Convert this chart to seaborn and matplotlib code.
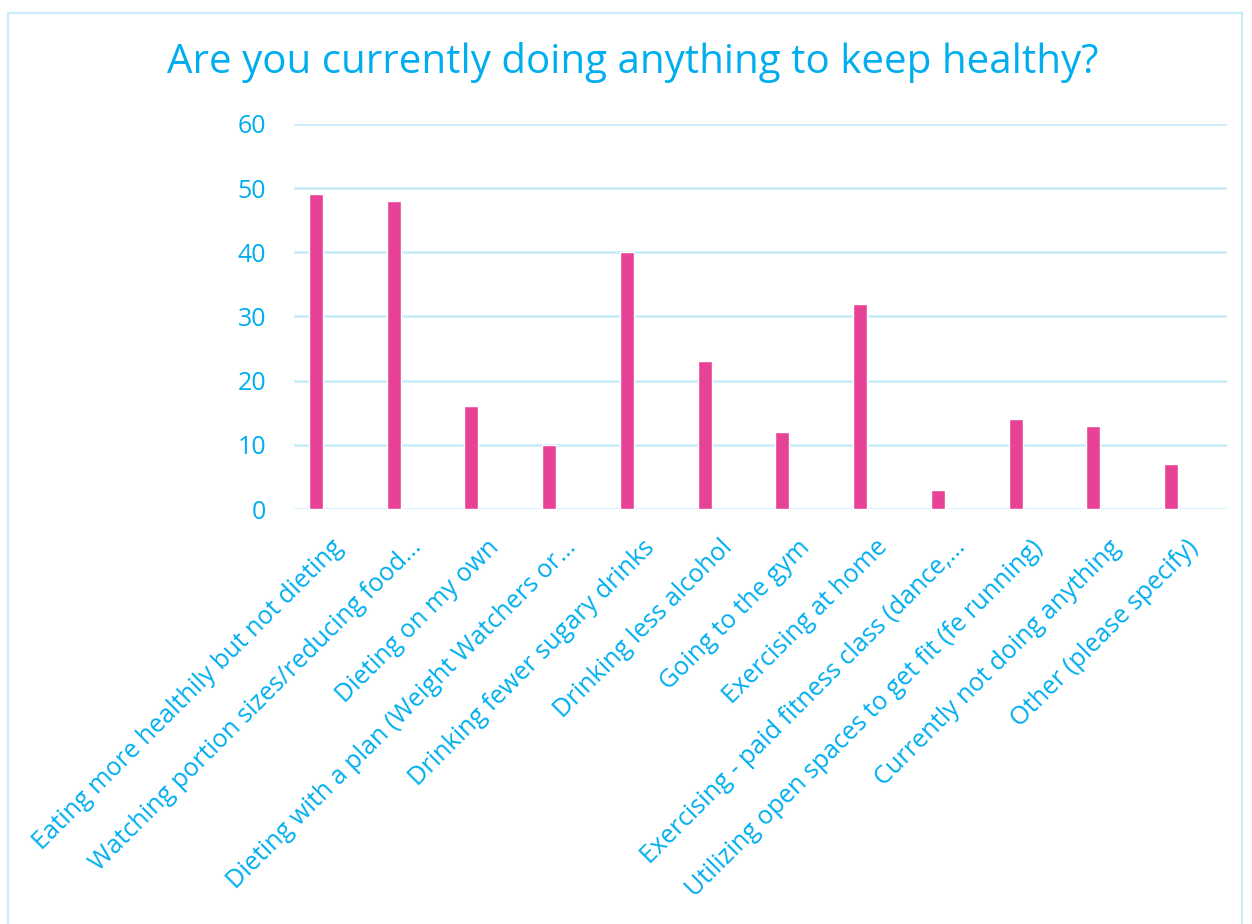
import matplotlib
matplotlib.use("Agg")
import matplotlib.pyplot as plt
import matplotlib.transforms as mtransforms
import seaborn as sns
import pandas as pd
from matplotlib.patches import Rectangle

sns.set_style("white")
plt.rcParams['font.family'] = ['Open Sans', 'DejaVu Sans']

# chart data
categories = [
    "Eating more healthily but not dieting",
    "Watching portion sizes/reducing food…",
    "Dieting on my own",
    "Dieting with a plan (Weight Watchers or…",
    "Drinking fewer sugary drinks",
    "Drinking less alcohol",
    "Going to the gym",
    "Exercising at home",
    "Exercising - paid fitness class (dance,…",
    "Utilizing open spaces to get fit (fe running)",
    "Currently not doing anything",
    "Other (please specify)",
]
counts = [49, 48, 16, 10, 40, 23, 12, 32, 3, 14, 13, 7]
y_ticks = [0, 10, 20, 30, 40, 50, 60]

df = pd.DataFrame({"category": categories, "count": counts})

text_blue = "#00AEEF"
grid_blue = "#C9ECFB"
bar_pink = "#E84297"

fig = plt.figure(figsize=(12.52, 9.24), dpi=100)
ax = fig.add_axes([0.2348, 0.449, 0.7452, 0.417])

sns.barplot(data=df, x="category", y="count", color=bar_pink,
            width=0.18, saturation=1, ax=ax)

ax.set_ylim(0, 60)
ax.set_xlim(-0.283, len(categories) - 1 + 0.72)
ax.set_yticks(y_ticks)
ax.yaxis.grid(True, color=grid_blue, linewidth=1.8)
ax.set_axisbelow(True)
for s in ax.spines.values():
    s.set_visible(False)
ax.tick_params(axis='y', length=0, pad=20, labelsize=18, labelcolor=text_blue)
ax.tick_params(axis='x', length=0, pad=10, labelsize=18.2, labelcolor=text_blue)
ax.set_xlabel("")
ax.set_ylabel("")
shift = mtransforms.ScaledTranslation(0.15, -0.12, fig.dpi_scale_trans)
for lbl in ax.get_xticklabels():
    lbl.set_rotation(45)
    lbl.set_ha('right')
    lbl.set_rotation_mode('anchor')
    lbl.set_transform(lbl.get_transform() + shift)

fig.text(0.505, 0.932, "Are you currently doing anything to keep healthy?",
         ha='center', va='center', fontsize=29, color=text_blue)

# outer frame
fig.patches.append(Rectangle((0.006, -0.05), 0.986, 1.036, transform=fig.transFigure,
                             fill=False, edgecolor=grid_blue, linewidth=1.5))

fig.savefig("out.png", dpi=100)
